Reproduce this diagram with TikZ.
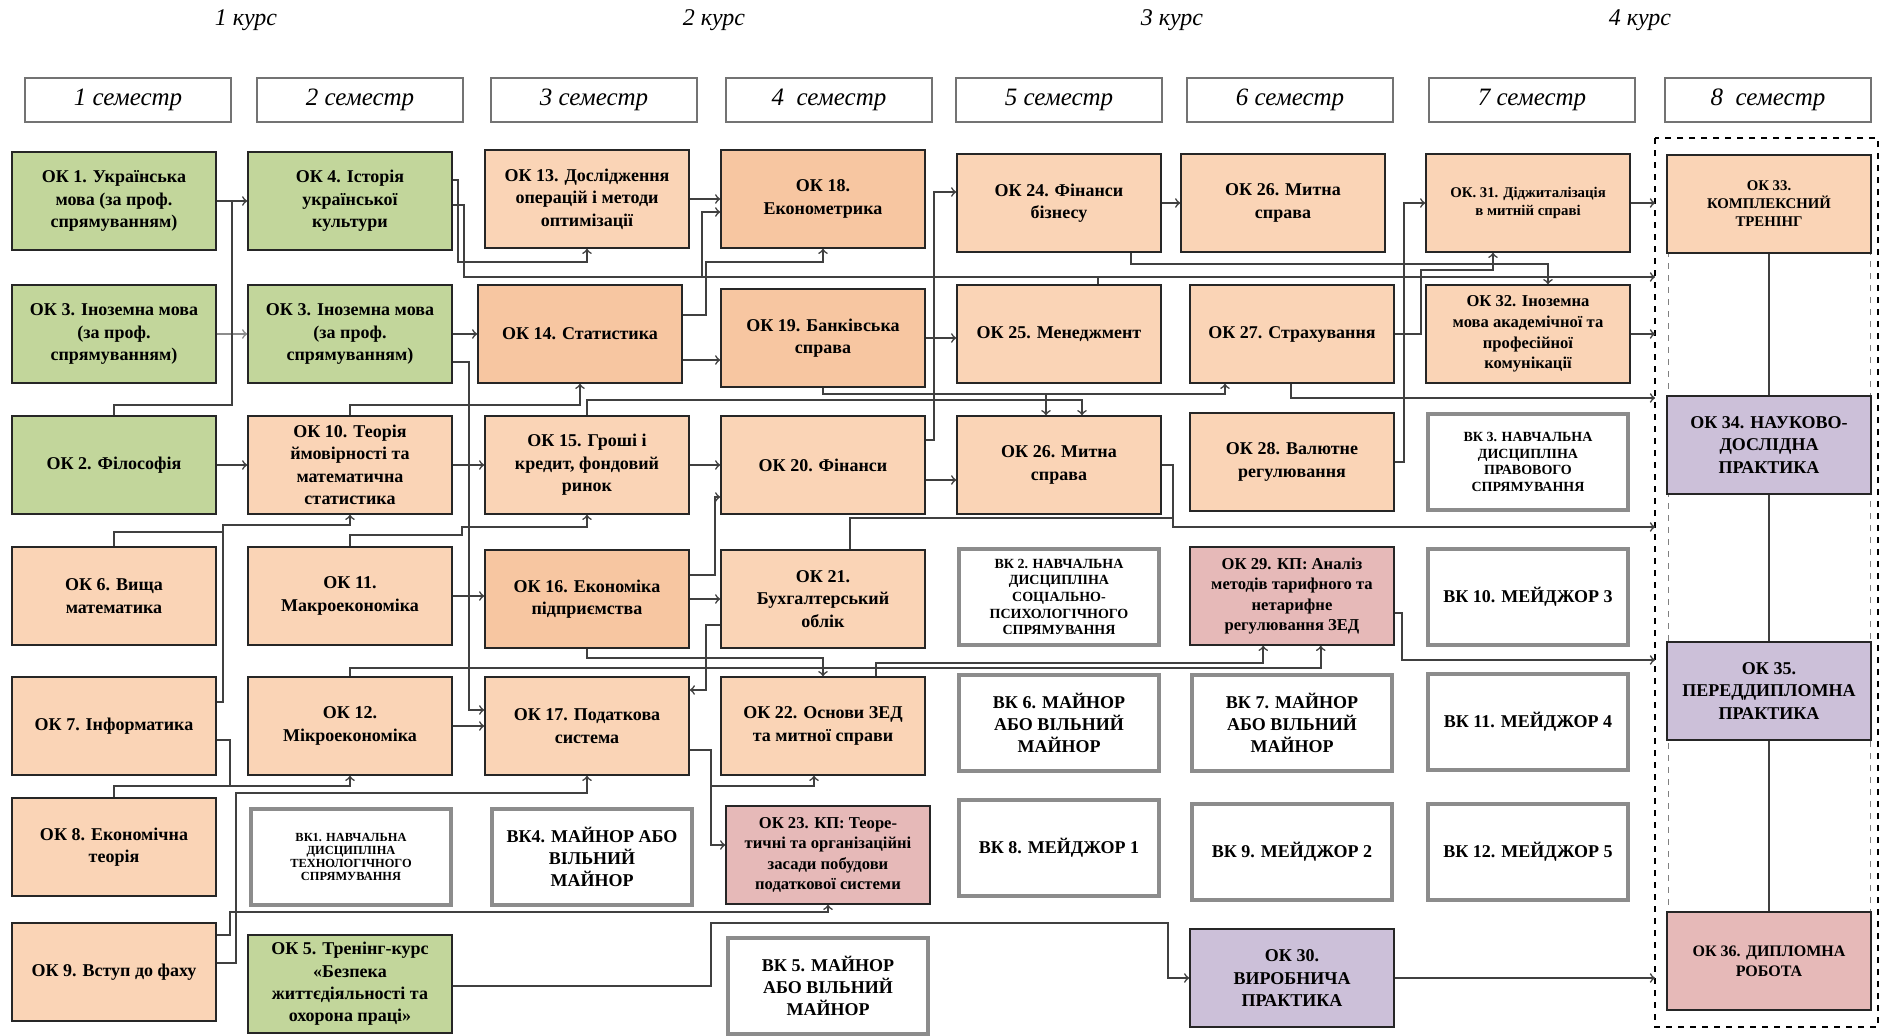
\documentclass[tikz,border=0pt]{standalone}
\usepackage{fontspec}
\setmainfont{Liberation Serif}
\newcommand{\okfont}{\fontsize{9}{11.2}\selectfont\bfseries}
\newcommand{\okmid}{\fontsize{8.3}{10.3}\selectfont\bfseries}
\newcommand{\oksmall}{\fontsize{7.4}{9}\selectfont\bfseries}
\newcommand{\vksmall}{\fontsize{6.2}{6.6}\selectfont\bfseries}
\newcommand{\vkmid}{\fontsize{7}{8.3}\selectfont\bfseries}
\newcommand{\semfont}{\fontsize{12.5}{14}\selectfont\itshape}
\newcommand{\kursfont}{\fontsize{12}{14}\selectfont\itshape}
\begin{document}
\begin{tikzpicture}[x=0.5pt,y=-0.5pt,
  box/.style={draw=black!85,line width=0.8pt,minimum width=102pt,minimum height=49pt,inner sep=1pt,align=center,font=\okfont},
  okg/.style={box,fill=okgreen},
  okp/.style={box,fill=okpeach},
  okd/.style={box,fill=okpeachd},
  okr/.style={box,fill=okpink},
  okv/.style={box,fill=okviolet},
  vk/.style={box,draw=black!45,line width=1.8pt,fill=white,minimum width=100pt,minimum height=48pt},
  sem/.style={draw=black!55,line width=1.2pt,fill=white,minimum width=103pt,minimum height=22pt,font=\semfont},
  kurs/.style={font=\kursfont},
  link/.style={draw=black!75,line width=0.8pt,-to},
  joint/.style={draw=black!75,line width=0.8pt}]
  \definecolor{okgreen}{HTML}{C2D69B}
  \definecolor{okpeach}{HTML}{FAD4B6}
  \definecolor{okpeachd}{HTML}{F7C6A1}
  \definecolor{okpink}{HTML}{E6B9B8}
  \definecolor{okviolet}{HTML}{CCC0D9}
  \useasboundingbox (0,0) rectangle (1881,1035);
  \fill[white] (0,0) rectangle (1881,1035);
  \coordinate (grp) at (1655,0);
  \draw[dashed,line width=0.8pt] (1655,138) rectangle (1878,1027);
  \draw[dashed,black!50,line width=0.4pt] (1668,155) rectangle (1870,1010);

  \node[kurs] (k1) at (246,20) {1 курс};
  \node[kurs] (k2) at (714,20) {2 курс};
  \node[kurs] (k3) at (1172,20) {3 курс};
  \node[kurs] (k4) at (1640,20) {4 курс};

  \node[sem] (s1) at (128,100) {1 семестр};
  \node[sem] (s2) at (360,100) {2 семестр};
  \node[sem] (s3) at (594,100) {3 семестр};
  \node[sem] (s4) at (829,100) {4 \ семестр};
  \node[sem] (s5) at (1059,100) {5 семестр};
  \node[sem] (s6) at (1290,100) {6 семестр};
  \node[sem] (s7) at (1532,100) {7 семестр};
  \node[sem] (s8) at (1768,100) {8 \ семестр};

  \node[okg] (ok1) at (114,201) {ОК 1. Українська\\мова (за проф.\\спрямуванням)};
  \node[okg] (ok3a) at (114,334) {ОК 3. Іноземна мова\\(за проф.\\спрямуванням)};
  \node[okg] (ok2) at (114,465) {ОК 2. Філософія};
  \node[okp] (ok6) at (114,596) {ОК 6. Вища\\математика};
  \node[okp] (ok7) at (114,726) {ОК 7. Інформатика};
  \node[okp] (ok8) at (114,847) {ОК 8. Економічна\\теорія};
  \node[okp] (ok9) at (114,972) {ОК 9. Вступ до фаху};

  \node[okg] (ok4) at (350,201) {ОК 4. Історія\\української\\культури};
  \node[okg] (ok3b) at (350,334) {ОК 3. Іноземна мова\\(за проф.\\спрямуванням)};
  \node[okp] (ok10) at (350,465) {ОК 10. Теорія\\ймовірності та\\математична\\статистика};
  \node[okp] (ok11) at (350,596) {ОК 11.\\Макроекономіка};
  \node[okp] (ok12) at (350,726) {ОК 12.\\Мікроекономіка};
  \node[vk,font=\vksmall] (vk1) at (351,857) {ВК1. НАВЧАЛЬНА\\ДИСЦИПЛІНА\\ТЕХНОЛОГІЧНОГО\\СПРЯМУВАННЯ};
  \node[okg] (ok5) at (350,984) {ОК 5. Тренінг-курс\\«Безпека\\життєдіяльності та\\охорона праці»};

  \node[okp] (ok13) at (587,199) {ОК 13. Дослідження\\операцій і методи\\оптимізації};
  \node[okd] (ok14) at (580,334) {ОК 14. Статистика};
  \node[okp] (ok15) at (587,465) {ОК 15. Гроші і\\кредит, фондовий\\ринок};
  \node[okd] (ok16) at (587,599) {ОК 16. Економіка\\підприємства};
  \node[okp] (ok17) at (587,726) {ОК 17. Податкова\\система};
  \node[vk] (vk4) at (592,857) {ВК4. МАЙНОР АБО\\ВІЛЬНИЙ\\МАЙНОР};

  \node[okd] (ok18) at (823,199) {ОК 18.\\Економетрика};
  \node[okd] (ok19) at (823,338) {ОК 19. Банківська\\справа};
  \node[okp] (ok20) at (823,465) {ОК 20. Фінанси};
  \node[okp] (ok21) at (823,599) {ОК 21.\\Бухгалтерський\\облік};
  \node[okp] (ok22) at (823,726) {ОК 22. Основи ЗЕД\\та митної справи};
  \node[okr,font=\okmid] (ok23) at (828,855) {ОК 23. КП: Теоре-\\тичні та організаційні\\засади побудови\\податкової системи};
  \node[vk] (vk5) at (828,986) {ВК 5. МАЙНОР\\АБО ВІЛЬНИЙ\\МАЙНОР};

  \node[okp] (ok24) at (1059,203) {ОК 24. Фінанси\\бізнесу};
  \node[okp] (ok25) at (1059,334) {ОК 25. Менеджмент};
  \node[okp] (ok26b) at (1059,465) {ОК 26. Митна\\справа};
  \node[vk,font=\vkmid] (vk2) at (1059,597) {ВК 2. НАВЧАЛЬНА\\ДИСЦИПЛІНА\\СОЦІАЛЬНО-\\ПСИХОЛОГІЧНОГО\\СПРЯМУВАННЯ};
  \node[vk] (vk6) at (1059,723) {ВК 6. МАЙНОР\\АБО ВІЛЬНИЙ\\МАЙНОР};
  \node[vk] (vk8) at (1059,848) {ВК 8. МЕЙДЖОР 1};

  \node[okp] (ok26) at (1283,203) {ОК 26. Митна\\справа};
  \node[okp] (ok27) at (1292,334) {ОК 27. Страхування};
  \node[okp] (ok28) at (1292,462) {ОК 28. Валютне\\регулювання};
  \node[okr,font=\okmid] (ok29) at (1292,596) {ОК 29. КП: Аналіз\\методів тарифного та\\нетарифне\\регулювання ЗЕД};
  \node[vk] (vk7) at (1292,723) {ВК 7. МАЙНОР\\АБО ВІЛЬНИЙ\\МАЙНОР};
  \node[vk] (vk9) at (1292,852) {ВК 9. МЕЙДЖОР 2};
  \node[okv] (ok30) at (1292,978) {ОК 30.\\ВИРОБНИЧА\\ПРАКТИКА};

  \node[okp,font=\oksmall] (ok31) at (1528,203) {ОК. 31. Діджиталізація\\в митній справі};
  \node[okp,font=\okmid] (ok32) at (1528,334) {ОК 32. Іноземна\\мова академічної та\\професійної\\комунікації};
  \node[vk,font=\vkmid] (vk3) at (1528,462) {ВК 3. НАВЧАЛЬНА\\ДИСЦИПЛІНА\\ПРАВОВОГО\\СПРЯМУВАННЯ};
  \node[vk] (vk10) at (1528,597) {ВК 10. МЕЙДЖОР 3};
  \node[vk] (vk11) at (1528,722) {ВК 11. МЕЙДЖОР 4};
  \node[vk] (vk12) at (1528,852) {ВК 12. МЕЙДЖОР 5};

  \node[okp,font=\oksmall] (ok33) at (1769,204) {ОК 33.\\КОМПЛЕКСНИЙ\\ТРЕНІНГ};
  \node[okv] (ok34) at (1769,445) {ОК 34. НАУКОВО-\\ДОСЛІДНА\\ПРАКТИКА};
  \node[okv] (ok35) at (1769,691) {ОК 35.\\ПЕРЕДДИПЛОМНА\\ПРАКТИКА};
  \node[okr,font=\fontsize{8}{10}\selectfont\bfseries] (ok36) at (1769,961) {ОК 36. ДИПЛОМНА\\РОБОТА};

  \draw[link] (ok1) -- (ok4);
  \draw[link,draw=black!45] (ok3a) -- (ok3b);
  \draw[joint] (ok2.north) |- (232,405) -- (232,201);
  \draw[link] (ok2) -- (ok10);
  \draw[link] (ok6.north) |- (223,532) |- (243,525) -| (ok10.south);
  \draw[joint] (ok7.east |- 0,702) -| (223,532);
  \draw[link] (ok7.east |- 0,740) -| (230,786) -| (ok12.south);
  \draw[joint] (ok8.north) |- (230,786);
  \draw[link] (ok9.east |- 0,935) -| (230,912) -| (ok23.south);
  \draw[link] (ok9.east |- 0,963) -| (236,793) -| (ok17.south);
  \draw[link] (ok5.east |- 0,986) -| (711,923) -| (1168,978) -- (ok30.west |- 0,978);

  \draw[link] (ok4.east |- 0,180) -| (458,262) -| (ok13.south);
  \draw[link] (ok4.east |- 0,205) -| (464,277) -- (grp |- 0,277);
  \draw[link] (ok4.east |- 0,205) -| (464,277) -| (702,212) -- (ok18.west |- 0,212);
  \draw[link] (ok3b) -- (ok14);
  \draw[link] (ok3b.east |- 0,362) -| (469,710) -- (ok17.west |- 0,710);
  \draw[link] (ok10.north) |- (ok14.south |- 0,405) -- (ok14.south);
  \draw[link] (ok10) -- (ok15);
  \draw[link] (ok11.north) |- (462,535) |- (ok15.south |- 0,527) -- (ok15.south);
  \draw[link] (ok11) -- (ok16.west |- ok11);
  \draw[link] (ok12) -- (ok17);
  \draw[link] (ok12.north) |- (ok29.-60 |- 0,668) -- (ok29.-60);

  \draw[link] (ok13) -- (ok18);
  \draw[link] (ok14.east |- 0,315) -| (706,262) -| (ok18.south);
  \draw[link] (ok14.east |- 0,360) -- (ok19.west |- 0,360);
  \draw[link] (ok15.north) |- (1082,400) -- (ok26b.north -| 1082,0);
  \draw[link] (ok19.south) |- (1046,394) -- (ok26b.north -| 1046,0);
  \draw[link] (ok19.south) |- (1225,394) -- (ok27.south -| 1225,0);
  \draw[link] (ok15) -- (ok20);
  \draw[link] (ok16.east |- 0,575) -| (715,497) -- (ok20.west |- 0,497);
  \draw[link] (ok16) -- (ok21);
  \draw[link] (ok21.west |- 0,625) -| (706,690) -- (ok17.east |- 0,690);
  \draw[link] (ok16.south) |- (ok22.north |- 0,658) -- (ok22.north);
  \draw[link] (ok22.north -| 876,0) |- (ok29.-120 |- 0,663) -- (ok29.-120);
  \draw[link] (ok17.east |- 0,750) -| (711,786) -| (ok22.south -| 814,0);
  \draw[link] (ok17.east |- 0,750) -| (711,845) -- (ok23.west |- 0,845);

  \draw[link] (ok20.east |- 0,440) -| (934,192) -- (ok24.west |- 0,192);
  \draw[link] (ok19) -- (ok25.west |- ok19);
  \draw[link] (ok20.east |- 0,480) -- (ok26b.west |- 0,480);
  \draw[joint] (ok21.north -| 850,0) |- (1173,518) -- (1173,527);
  \draw[link] (ok26b.east) -| (1173,527) -- (grp |- 0,527);

  \draw[link] (ok24) -- (ok26);
  \draw[link] (ok24.south -| 1131,0) |- (1548,264) -- (ok32.north -| 1548,0);
  \draw[joint] (ok25.north -| 1098,0) -- (1098,277);
  \draw[link] (ok27.east) -| (1421,270) -| (ok31.south -| 1493,0);
  \draw[link] (ok28.east |- 0,462) -| (1404,203) -- (ok31.west |- 0,203);
  \draw[link] (ok27.south -| 1291,0) |- (grp |- 0,398);
  \draw[link] (ok29.east |- 0,613) -| (1402,660) -- (grp |- 0,660);
  \draw[link] (ok31) -- (grp |- ok31);
  \draw[link] (ok32) -- (grp |- ok32);
  \draw[link] (ok30) -- (grp |- ok30);

  \draw[joint] (ok33) -- (ok34);
  \draw[joint] (ok34) -- (ok35);
  \draw[joint] (ok35) -- (ok36);
\end{tikzpicture}
\end{document}
